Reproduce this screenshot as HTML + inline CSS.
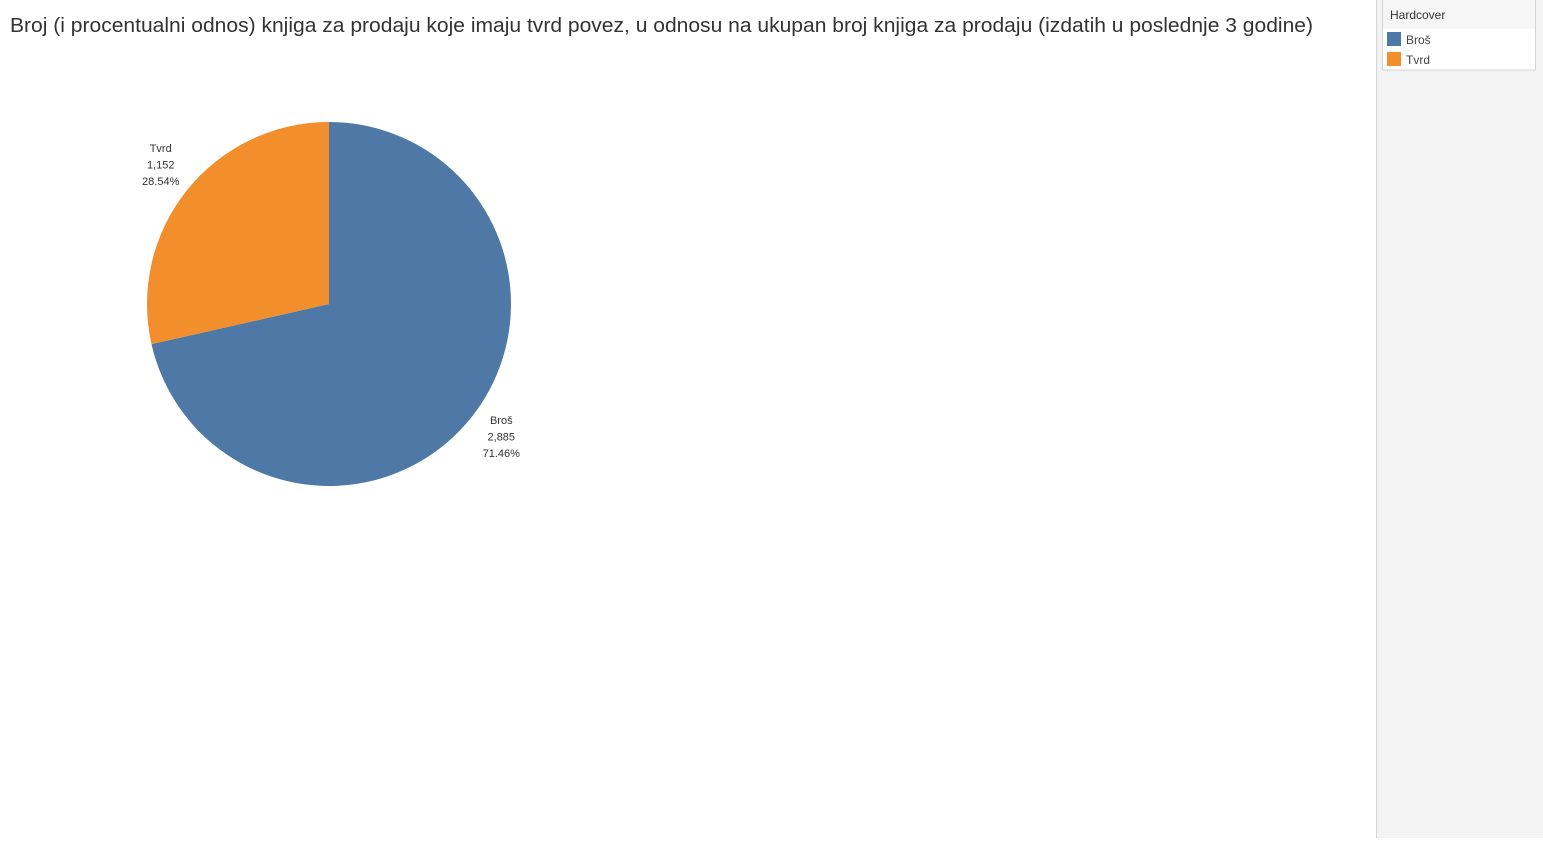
<!DOCTYPE html>
<html><head><meta charset="utf-8"><style>
body{margin:0;width:1543px;height:838px;overflow:hidden;background:#fff;font-family:"Liberation Sans",sans-serif}
</style></head><body>
<svg width="1543" height="838" xmlns="http://www.w3.org/2000/svg">
<text x="10" y="32" font-size="20" fill="#333" textLength="1303" lengthAdjust="spacingAndGlyphs" font-family="Liberation Sans, sans-serif">Broj (i procentualni odnos) knjiga za prodaju koje imaju tvrd povez, u odnosu na ukupan broj knjiga za prodaju (izdatih u poslednje 3 godine)</text>
<rect x="1376" y="0" width="167" height="838" fill="#f3f3f3"/>
<line x1="1376.5" y1="0" x2="1376.5" y2="838" stroke="#d4d4d4"/>
<rect x="1382.5" y="-1" width="153" height="71" fill="#fff" stroke="#d4d4d4"/>
<rect x="1383" y="0" width="152" height="29" fill="#f6f6f6"/>
<text x="1390" y="19" font-size="12" fill="#333">Hardcover</text>
<g id="pie"></g>
<g id="legend"></g>
</svg>
<script>
const categories=["Broš","Tvrd"];
const values=[2885,1152];
const labelsVal=["2,885","1,152"];
const colors=["#4e79a7","#f28e2b"];
const NS="http://www.w3.org/2000/svg";
const cx=329,cy=304,r=182;
const total=values.reduce((a,b)=>a+b,0);
const pie=document.getElementById('pie');
function pt(a,rr){return [cx+rr*Math.sin(a),cy-rr*Math.cos(a)];}
let start=0;
values.forEach((v,i)=>{
  const ang=v/total*2*Math.PI,end=start+ang;
  const [x1,y1]=pt(start,r),[x2,y2]=pt(end,r);
  const p=document.createElementNS(NS,'path');
  p.setAttribute('d',`M${cx},${cy}L${x1},${y1}A${r},${r} 0 ${ang>Math.PI?1:0} 1 ${x2},${y2}Z`);
  p.setAttribute('fill',colors[i]);
  
  
  pie.appendChild(p);
  const mid=(start+end)/2;
  const [lx,ly]=pt(mid,r+36);
  const pct=(v/total*100).toFixed(2)+'%';
  const lines=[categories[i],labelsVal[i],pct];
  const t=document.createElementNS(NS,'text');
  
  
  t.setAttribute('font-size','11');t.setAttribute('fill','#333');t.setAttribute('text-anchor','middle');
  lines.forEach((s,k)=>{const ts=document.createElementNS(NS,'tspan');ts.setAttribute('x',lx+2);ts.setAttribute('y',ly-16+k*16.5);ts.textContent=s;t.appendChild(ts);});
  pie.appendChild(t);
  start=end;
});
const lg=document.getElementById('legend');
categories.forEach((c,i)=>{
  const rc=document.createElementNS(NS,'rect');
  rc.setAttribute('x',1387);rc.setAttribute('y',32+i*20);rc.setAttribute('width',14);rc.setAttribute('height',14);rc.setAttribute('fill',colors[i]);
  
  
  lg.appendChild(rc);
  const t=document.createElementNS(NS,'text');
  t.setAttribute('x',1406);t.setAttribute('y',44+i*20);t.setAttribute('font-size','12');t.setAttribute('fill','#444');
  t.textContent=c;
  
  
  lg.appendChild(t);
});
</script>
</body></html>
